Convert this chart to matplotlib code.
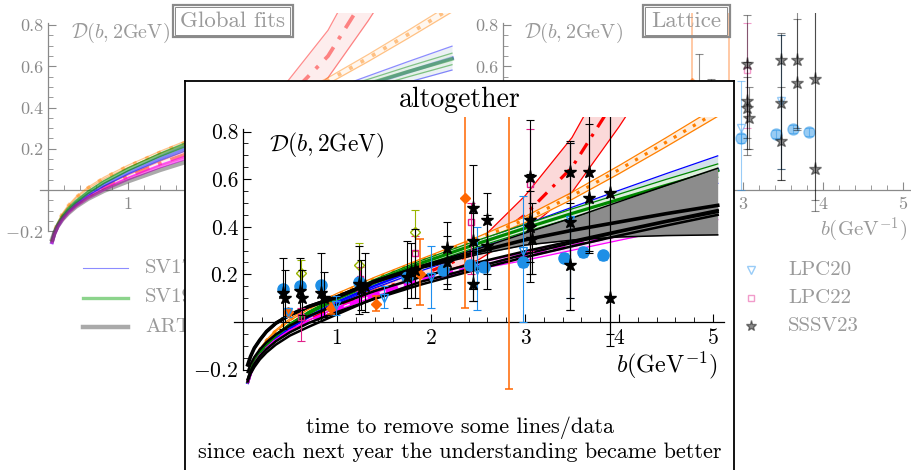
import numpy as np
import matplotlib
matplotlib.use('Agg')
import matplotlib.pyplot as plt
from matplotlib.lines import Line2D
from matplotlib.patches import Rectangle
from matplotlib.ticker import FixedLocator, FixedFormatter

plt.rcParams['font.family'] = 'cmr10'
plt.rcParams['mathtext.fontset'] = 'cm'
plt.rcParams['axes.formatter.use_mathtext'] = True

# ---- curves D(b, 2GeV) ----
b_grid = [0.05, 0.08, 0.12, 0.18, 0.25, 0.35, 0.5, 0.7, 1.0, 1.4, 1.9, 2.5, 3.0, 3.5, 4.0, 4.5, 5.05]

sv17_mid = [-0.254, -0.213, -0.177, -0.138, -0.104, -0.067, -0.023, 0.025, 0.085, 0.154, 0.231, 0.316, 0.383, 0.448, 0.511, 0.573, 0.640]
sv17_err = [0.003, 0.003, 0.003, 0.003, 0.004, 0.004, 0.005, 0.006, 0.008, 0.011, 0.015, 0.021, 0.027, 0.034, 0.042, 0.050, 0.058]
sv19_mid = [-0.251, -0.208, -0.170, -0.129, -0.094, -0.056, -0.011, 0.039, 0.100, 0.170, 0.248, 0.330, 0.394, 0.456, 0.515, 0.574, 0.636]
sv19_err = [0.003, 0.003, 0.003, 0.003, 0.004, 0.004, 0.005, 0.006, 0.007, 0.009, 0.011, 0.014, 0.016, 0.019, 0.022, 0.025, 0.028]
map_mid = [-0.252, -0.202, -0.160, -0.116, -0.078, -0.036, 0.010, 0.058, 0.115, 0.182, 0.258, 0.348, 0.430, 0.530, 0.640, 0.755, 0.885]
map_err = [0.002, 0.002, 0.002, 0.003, 0.003, 0.003, 0.004, 0.004, 0.005, 0.006, 0.008, 0.010, 0.013, 0.015, 0.017, 0.019, 0.021]
pv_mid = [-0.252, -0.212, -0.177, -0.140, -0.108, -0.072, -0.032, 0.012, 0.065, 0.128, 0.198, 0.295, 0.450, 0.650, 0.960, 1.300, 1.700]
pv_up = [0.003, 0.003, 0.003, 0.004, 0.004, 0.005, 0.005, 0.006, 0.008, 0.012, 0.020, 0.040, 0.080, 0.125, 0.170, 0.220, 0.280]
pv_dn = [0.003, 0.003, 0.003, 0.004, 0.004, 0.005, 0.005, 0.006, 0.008, 0.011, 0.017, 0.035, 0.068, 0.105, 0.140, 0.180, 0.230]
pink_mid = [-0.254, -0.215, -0.180, -0.143, -0.112, -0.077, -0.038, 0.003, 0.055, 0.115, 0.180, 0.235, 0.275, 0.320, 0.365, 0.410, 0.460]
pink_err = [0.003, 0.003, 0.003, 0.003, 0.003, 0.004, 0.004, 0.005, 0.006, 0.008, 0.010, 0.013, 0.016, 0.019, 0.022, 0.026, 0.030]
art23 = [-0.240, -0.207, -0.176, -0.143, -0.114, -0.081, -0.043, -0.004, 0.042, 0.097, 0.158, 0.222, 0.272, 0.318, 0.363, 0.405, 0.450]
art23_b = [-0.250, -0.218, -0.190, -0.157, -0.128, -0.095, -0.057, -0.020, 0.032, 0.100, 0.170, 0.232, 0.285, 0.332, 0.378, 0.420, 0.462]
art23_c = [-0.210, -0.178, -0.148, -0.115, -0.085, -0.052, -0.015, 0.025, 0.072, 0.130, 0.190, 0.250, 0.297, 0.340, 0.383, 0.425, 0.470]
lat_mid = [-0.180, -0.145, -0.110, -0.075, -0.040, -0.005, 0.030, 0.065, 0.105, 0.170, 0.232, 0.295, 0.345, 0.385, 0.420, 0.455, 0.490]
lat_hi = [-0.176, -0.141, -0.106, -0.071, -0.036, -0.001, 0.034, 0.069, 0.110, 0.175, 0.238, 0.307, 0.373, 0.437, 0.505, 0.573, 0.646]
lat_lo = [-0.184, -0.149, -0.114, -0.079, -0.044, -0.009, 0.026, 0.061, 0.100, 0.165, 0.226, 0.284, 0.323, 0.344, 0.357, 0.363, 0.366]

# ---- lattice points: b, value, lower end, upper end ----
sssv_b = [0.43, 0.45, 0.61, 0.63, 0.83, 0.86, 1.23, 1.26, 1.30, 1.74, 1.79, 1.83, 2.17, 2.17, 2.45, 2.45, 2.45, 2.60, 2.60,
          3.05, 3.05, 3.05, 3.07, 3.48, 3.48, 3.48, 3.68, 3.68, 3.90, 3.90]
sssv_d = [0.12, 0.10, 0.13, 0.10, 0.12, 0.10, 0.16, 0.14, 0.15, 0.19, 0.21, 0.22, 0.31, 0.25, 0.48, 0.34, 0.16, 0.43, 0.32,
          0.61, 0.43, 0.40, 0.35, 0.63, 0.42, 0.24, 0.63, 0.52, 0.54, 0.10]
sssv_lo = [-0.03, 0.00, 0.05, 0.03, 0.00, 0.02, 0.035, 0.05, 0.04, 0.058, 0.10, 0.10, 0.14, 0.16, 0.09, 0.14, 0.09, 0.14, 0.20,
           0.17, 0.20, 0.25, 0.20, 0.05, 0.10, 0.05, 0.30, 0.29, -0.10, -0.05]
sssv_hi = [0.27, 0.22, 0.27, 0.22, 0.29, 0.21, 0.32, 0.26, 0.29, 0.34, 0.33, 0.39, 0.42, 0.36, 0.66, 0.46, 0.30, 0.54, 0.45,
           0.85, 0.62, 0.55, 0.50, 0.76, 0.75, 0.50, 0.92, 0.83, 0.92, 0.90]

circ_b = [0.43, 0.61, 0.83, 1.23, 1.74, 2.13, 2.41, 2.56, 2.98, 3.41, 3.62, 3.83]
circ_d = [0.137, 0.150, 0.155, 0.170, 0.190, 0.220, 0.240, 0.230, 0.250, 0.270, 0.295, 0.280]
circ_e = [0.015, 0.015, 0.015, 0.015, 0.015, 0.015, 0.02, 0.02, 0.02, 0.02, 0.02, 0.02]

lpc20_b = [0.48, 0.99, 1.50, 2.00, 2.49, 2.98, 3.48]
lpc20_d = [0.04, 0.07, 0.10, 0.19, 0.22, 0.30, 0.43]
lpc20_lo = [0.02, 0.03, 0.06, 0.06, 0.05, 0.00, 0.10]
lpc20_hi = [0.06, 0.11, 0.15, 0.32, 0.40, 0.53, 0.75]

lpc22_b = [0.62, 1.25, 1.83, 2.43, 3.05]
lpc22_d = [0.02, 0.18, 0.29, 0.42, 0.58]
lpc22_lo = [-0.08, 0.13, 0.22, 0.20, 0.30]
lpc22_hi = [0.06, 0.23, 0.36, 0.50, 0.81]

orng_b = [0.48, 0.94, 1.42, 1.88, 2.36, 2.83]
orng_d = [0.04, 0.057, 0.076, 0.20, 0.52, 1.20]
orng_lo = [0.03, 0.035, 0.045, 0.07, 0.06, -0.28]
orng_hi = [0.05, 0.08, 0.11, 0.35, 1.50, 1.50]

olive_b = [0.62, 1.23, 1.83]
olive_d = [0.207, 0.24, 0.38]
olive_lo = [0.15, 0.18, 0.30]
olive_hi = [0.26, 0.33, 0.47]

W, H = 912, 470
fig = plt.figure(figsize=(W / 100, H / 100), dpi=100)
fig.patch.set_facecolor('white')

GRAY = '#8a8a8a'
TXT = '#9a9a9a'


def box(x0, y0, x1, y1):
    return [x0 / W, 1 - y1 / H, (x1 - x0) / W, (y1 - y0) / H]


def setup(ax, xlim, ylim, color, fs, xb, ylab, xlab):
    ax.set_xlim(*xlim); ax.set_ylim(*ylim)
    ax.set_facecolor('none')
    for s in ['top', 'right']:
        ax.spines[s].set_visible(False)
    ax.spines['left'].set_position(('data', 0))
    ax.spines['bottom'].set_position(('data', 0))
    ax.spines['left'].set_bounds(-0.2, 0.81)
    ax.spines['bottom'].set_bounds(-0.1, xb)
    for s in ['left', 'bottom']:
        ax.spines[s].set_color(color); ax.spines[s].set_linewidth(0.9)
    ax.yaxis.set_major_locator(FixedLocator([-0.2, 0.2, 0.4, 0.6, 0.8]))
    ax.yaxis.set_major_formatter(FixedFormatter(ylab))
    ax.yaxis.set_minor_locator(FixedLocator(np.arange(-0.2, 0.81, 0.05)))
    ax.xaxis.set_major_locator(FixedLocator([1, 2, 3, 4, 5]))
    ax.xaxis.set_major_formatter(FixedFormatter(xlab))
    ax.xaxis.set_minor_locator(FixedLocator(np.arange(0.2, xb, 0.2)))
    ax.tick_params(which='both', direction='in', colors=color, labelcolor=color, labelsize=fs)
    ax.tick_params(which='major', length=6, width=0.8)
    ax.tick_params(which='minor', length=3.5, width=0.6)
    ax.tick_params(axis='x', pad=5)


def band(ax, mid, dn, up, color, fill, ls, lw, alpha, z):
    b = np.array(b_grid); m = np.array(mid)
    lo = m - np.array(dn); hi = m + np.array(up)
    ax.fill_between(b, lo, hi, color=fill, alpha=alpha, lw=0, zorder=z)
    ax.plot(b, lo, color=color, lw=0.9, alpha=alpha, zorder=z + 0.1)
    ax.plot(b, hi, color=color, lw=0.9, alpha=alpha, zorder=z + 0.1)
    ax.plot(b, m, color=color, lw=lw, ls=ls, alpha=alpha, zorder=z + 0.2)


def curves(ax, alpha, inset):
    lw = 2.3 if inset else 2.7
    band(ax, pv_mid, pv_dn, pv_up, '#ff0000', '#fbd9d9', (0, (4, 2.5, 1, 2.5)), lw, alpha, 2)
    band(ax, map_mid, map_err, map_err, '#ff8000', '#ffeedd', (0, (1, 2.5)), lw, alpha, 2.5)
    band(ax, sv17_mid, sv17_err, sv17_err, '#0000ff', '#d3e1ea', '-', lw, alpha, 3)
    band(ax, sv19_mid, sv19_err, sv19_err, '#008800', '#dcefdc', '-', lw, alpha, 3.5)
    band(ax, pink_mid, pink_err, pink_err, '#ff00ff', '#fbe0fb', (0, (4, 2)) if inset else '-', lw, alpha, 4)
    if inset:
        ax.fill_between(b_grid, lat_lo, lat_hi, color='#8c8c8c', lw=0, zorder=4.5)
        ax.plot(b_grid, lat_lo, color='black', lw=1.1, zorder=4.6)
        ax.plot(b_grid, lat_hi, color='black', lw=1.1, zorder=4.6)
        ax.plot(b_grid, lat_mid, color='black', lw=2.6, zorder=5)
        for c in (art23, art23_b, art23_c):
            ax.plot(b_grid, c, color='black', lw=1.8, zorder=5)
    else:
        ax.plot(b_grid, art23, color='#444444', lw=3.2, alpha=alpha, zorder=5)


def points(ax, alpha):
    def eb(b, d, lo, hi, fmt, col, ms, mfc=None, z=6, elw=0.8):
        d = np.array(d)
        err = [d - np.array(lo), np.array(hi) - d]
        ax.errorbar(b, d, yerr=err, fmt=fmt, color=col, ecolor=col, ms=ms, mfc=mfc if mfc else col,
                    mec=col, elinewidth=elw, capsize=3, capthick=elw, alpha=alpha, zorder=z)
    eb(orng_b, orng_d, orng_lo, orng_hi, 'D', '#ff6600', 5, elw=1.1)
    eb(olive_b, olive_d, olive_lo, olive_hi, 'D', '#99b400', 5, mfc='none')
    eb(lpc20_b, lpc20_d, lpc20_lo, lpc20_hi, 'v', '#1e8fef', 6, mfc='none')
    eb(lpc22_b, lpc22_d, lpc22_lo, lpc22_hi, 's', '#e0218a', 5, mfc='none')
    eb(circ_b, circ_d, np.array(circ_d) - np.array(circ_e), np.array(circ_d) + np.array(circ_e),
       'o', '#1e8fe6', 8)
    eb(sssv_b, sssv_d, sssv_lo, sssv_hi, '*', 'black', 9.5, z=7)


# ---- background panel: global fits ----
ax_l = fig.add_axes(box(38.4, 12.8, 460, 245.6))
ax_l.set_zorder(0)
setup(ax_l, (-0.12, 5.15), (-0.27, 0.86), GRAY, 13, 5.1,
      ['$-0.2$', '0.2', '0.4', '0.6', '0.8'], ['1', '', '', '', ''])
curves(ax_l, 0.45, False)

# ---- background panel: lattice (mostly hidden behind the frame) ----
ax_r = fig.add_axes(box(493.4, 12.8, 911, 245.6))
ax_r.set_zorder(0)
setup(ax_r, (-0.12, 5.1), (-0.27, 0.86), GRAY, 13, 5.1,
      ['', '', '', '0.6', '0.8'], ['', '', '3', '4', '5'])
points(ax_r, 0.45)

lab = r'$\mathcal{D}(b,2\mathrm{GeV})$'
xlab = r'$b(\mathrm{GeV}^{-1})$'
fig.text(120 / W, 1 - 33 / H, lab, color=TXT, fontsize=14.5, ha='center', va='center', zorder=0.5)
fig.text(573 / W, 1 - 33 / H, lab, color=TXT, fontsize=14.5, ha='center', va='center', zorder=0.5)
fig.text(907 / W, 1 - 230 / H, xlab, color=TXT, fontsize=15, ha='right', va='center', zorder=0.5)


def title_box(x0, y0, x1, y1, label):
    fig.add_artist(Rectangle((x0 / W, 1 - y1 / H), (x1 - x0) / W, (y1 - y0) / H, transform=fig.transFigure,
                             fill=False, ec=GRAY, lw=1.6, zorder=0.5))
    fig.add_artist(Rectangle(((x0 + 2.5) / W, 1 - (y1 - 2.5) / H), (x1 - x0 - 5) / W, (y1 - y0 - 5) / H,
                             transform=fig.transFigure, fill=False, ec=GRAY, lw=0.7, zorder=0.5))
    fig.text((x0 + x1) / 2 / W, 1 - (y0 + y1) / 2 / H, label, color=TXT, fontsize=16.5,
             ha='center', va='center', zorder=0.5)


title_box(173, 5, 293, 37, 'Global fits')
title_box(643, 5, 730, 37, 'Lattice')

# legends of the background panels
leg_l = [('SV17', '#0000ff', 0.8), ('SV19', '#00a000', 2.4), ('ART23', '#444444', 3.2)]
for i, (name, col, lw) in enumerate(leg_l):
    y = 1 - (268 + 29.5 * i) / H
    fig.add_artist(Line2D([83 / W, 128 / W], [y, y], color=col, lw=lw, alpha=0.45,
                          transform=fig.transFigure, zorder=0.5))
    fig.text(145 / W, y, name, color=TXT, fontsize=15, va='center', ha='left', zorder=0.5)

leg_r = [('LPC20', 'v', '#1e8fef', 'none', 6), ('LPC22', 's', '#e0218a', 'none', 4.5), ('SSSV23', '*', 'black', 'black', 8)]
for i, (name, mk, col, fc, ms) in enumerate(leg_r):
    y = 1 - (270 + 28 * i) / H
    fig.add_artist(Line2D([751 / W], [y], marker=mk, ms=ms, mec=col, mfc=fc, ls='none', alpha=0.45,
                          transform=fig.transFigure, zorder=0.5))
    fig.text(788 / W, y, name, color=TXT, fontsize=15, va='center', ha='left', zorder=0.5)

# ---- the "altogether" frame ----
frame = fig.add_axes(box(185, 80.5, 734, 475))
frame.set_zorder(1)
frame.set_xticks([]); frame.set_yticks([])
frame.set_facecolor('white')
for s in frame.spines.values():
    s.set_linewidth(1.3); s.set_color('black')
frame.spines['bottom'].set_visible(False)

ax_i = fig.add_axes(box(228.9, 117.3, 731.8, 391))
ax_i.set_zorder(2)
setup(ax_i, (-0.15, 5.2), (-0.29, 0.86), 'black', 15.5, 5.12,
      ['$-0.2$', '0.2', '0.4', '0.6', '0.8'], ['1', '2', '3', '4', '5'])
curves(ax_i, 1.0, True)
points(ax_i, 1.0)

fig.text(460 / W, 1 - 100 / H, 'altogether', fontsize=20, ha='center', va='center', zorder=3)
fig.text(327 / W, 1 - 145 / H, lab, fontsize=17, ha='center', va='center', zorder=3)
fig.text(717 / W, 1 - 365 / H, xlab, fontsize=17.5, ha='right', va='center', zorder=3)
fig.text(460 / W, 1 - 428 / H, 'time to remove some lines/data', fontsize=16, ha='center', va='center', zorder=3)
fig.text(460 / W, 1 - 452 / H, 'since each next year the understanding became better', fontsize=16,
         ha='center', va='center', zorder=3)

fig.savefig('out.png', dpi=100, facecolor='white')
